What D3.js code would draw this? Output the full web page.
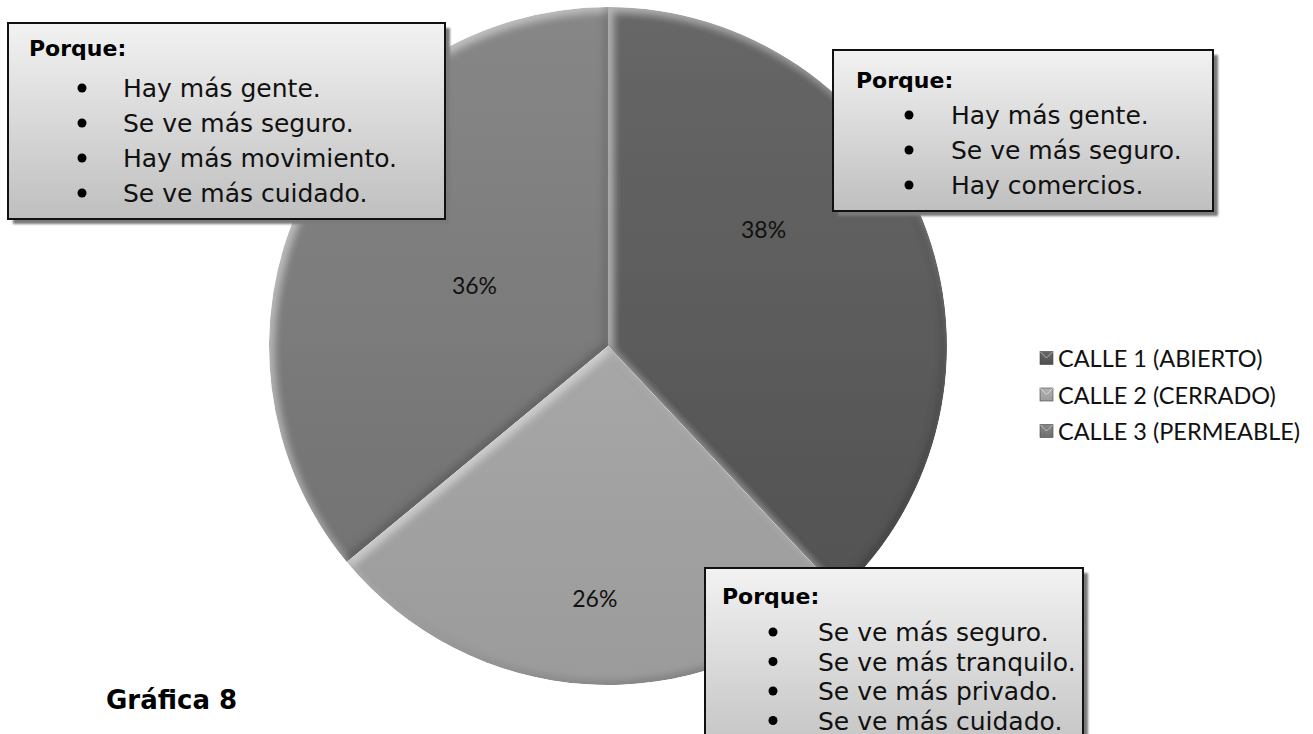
<!DOCTYPE html>
<html><head><meta charset="utf-8">
<script src="https://cdn.jsdelivr.net/npm/d3@7"></script>
<style>body{margin:0;background:#fff}svg{display:block}</style>
</head><body>
<svg id="chart" width="1313" height="734"></svg>
<script>
// ---- data ----
const categories = ["CALLE 1 (ABIERTO)", "CALLE 2 (CERRADO)", "CALLE 3 (PERMEABLE)"];
const values = [38, 26, 36];
const percentLabels = ["38%", "26%", "36%"];
const boxHeader = "Porque:";
const reasonsCalle1 = ["Hay más gente.", "Se ve más seguro.", "Hay comercios."];
const reasonsCalle2 = ["Se ve más seguro.", "Se ve más tranquilo.", "Se ve más privado.", "Se ve más cuidado."];
const reasonsCalle3 = ["Hay más gente.", "Se ve más seguro.", "Hay más movimiento.", "Se ve más cuidado."];
const chartTitle = "Gráfica 8";

// ---- styles / layout ----
const sliceTop = ["#676767", "#b3b3b3", "#878787"];
const sliceBottom = ["#4f4f4f", "#9b9b9b", "#6e6e6e"];
const cx = 608, cy = 346, R = 339;
const labelRadiusFrac = [0.574, 0.745, 0.433];
const labelAngleShift = [-15.3, -0.6, -0.7];

const svg = d3.select("#chart");
const defs = svg.append("defs");

// slice gradients (pie-group coordinates)
categories.forEach((c, i) => {
  const g = defs.append("linearGradient").attr("id", "sgp" + i)
    .attr("gradientUnits", "userSpaceOnUse")
    .attr("x1", 0).attr("y1", -R).attr("x2", 0).attr("y2", R);
  g.append("stop").attr("offset", 0).attr("stop-color", sliceTop[i]);
  g.append("stop").attr("offset", 1).attr("stop-color", sliceBottom[i]);
  const m = defs.append("linearGradient").attr("id", "mg" + i)
    .attr("x1", 0).attr("y1", 0).attr("x2", 0).attr("y2", 1);
  m.append("stop").attr("offset", 0).attr("stop-color", sliceTop[i]);
  m.append("stop").attr("offset", 1).attr("stop-color", sliceBottom[i]);
});

// bevel filter
const bev = defs.append("filter").attr("id", "bevel")
  .attr("x", "-5%").attr("y", "-5%").attr("width", "110%").attr("height", "110%");
bev.append("feGaussianBlur").attr("in", "SourceAlpha").attr("stdDeviation", 4).attr("result", "blur");
bev.append("feOffset").attr("in", "blur").attr("dx", 4).attr("dy", 4).attr("result", "offHi");
bev.append("feComposite").attr("in", "SourceAlpha").attr("in2", "offHi")
  .attr("operator", "arithmetic").attr("k2", 1).attr("k3", -1).attr("result", "hiMask");
bev.append("feFlood").attr("flood-color", "#ffffff").attr("flood-opacity", 0.45).attr("result", "white");
bev.append("feComposite").attr("in", "white").attr("in2", "hiMask").attr("operator", "in").attr("result", "hi");
bev.append("feOffset").attr("in", "blur").attr("dx", -3).attr("dy", -3).attr("result", "offSh");
bev.append("feComposite").attr("in", "SourceAlpha").attr("in2", "offSh")
  .attr("operator", "arithmetic").attr("k2", 1).attr("k3", -1).attr("result", "shMask");
bev.append("feFlood").attr("flood-color", "#000000").attr("flood-opacity", 0.45).attr("result", "black");
bev.append("feComposite").attr("in", "black").attr("in2", "shMask").attr("operator", "in").attr("result", "sh");
const mg = bev.append("feMerge").attr("result", "merged");
mg.append("feMergeNode").attr("in", "SourceGraphic");
mg.append("feMergeNode").attr("in", "hi");
mg.append("feMergeNode").attr("in", "sh");
bev.append("feComposite").attr("in", "merged").attr("in2", "SourceAlpha").attr("operator", "in");

// box shadow filter
const bs = defs.append("filter").attr("id", "bshadow");
bs.append("feGaussianBlur").attr("stdDeviation", 1.2);

// box gradient
const bg = defs.append("linearGradient").attr("id", "boxg")
  .attr("x1", 0).attr("y1", 0).attr("x2", 0).attr("y2", 1);
bg.append("stop").attr("offset", 0).attr("stop-color", "#f2f2f2");
bg.append("stop").attr("offset", 1).attr("stop-color", "#bfbfbf");

// ---- pie ----
const pie = d3.pie().sort(null).value(d => d)(values);
const arc = d3.arc().innerRadius(0).outerRadius(R);
const gPie = svg.append("g").attr("transform", `translate(${cx},${cy})`);
gPie.selectAll("path.slice").data(pie).join("path")
  .attr("class", "slice")
  .attr("d", arc)
  .attr("fill", (d, i) => `url(#sgp${i})`)
  .attr("filter", "url(#bevel)");

// percent labels
const labelPos = (d, i) => {
  const a = (d.startAngle + d.endAngle) / 2 + labelAngleShift[i] * Math.PI / 180;
  return [Math.sin(a) * R * labelRadiusFrac[i], -Math.cos(a) * R * labelRadiusFrac[i]];
};
gPie.selectAll("text.pct").data(pie).join("text")
  .attr("class", "pct")
  .attr("x", (d, i) => labelPos(d, i)[0])
  .attr("y", (d, i) => labelPos(d, i)[1])
  .attr("text-anchor", "middle")
  .attr("dominant-baseline", "central")
  .attr("font-family", "Lato, 'Open Sans', sans-serif")
  .attr("font-size", 23)
  .attr("fill", "#111")
  .text((d, i) => percentLabels[i]);

// ---- text boxes ----
const boxes = [
  {reasons: reasonsCalle3, x: 8, y: 23, w: 437, h: 196, px: 29, hy: 56, bx: 82, tx: 123, ly0: 97, step: 35},
  {reasons: reasonsCalle1, x: 833, y: 50, w: 380, h: 161, px: 856, hy: 88, bx: 909, tx: 951, ly0: 124, step: 35},
  {reasons: reasonsCalle2, x: 705, y: 568, w: 378, h: 200, px: 722, hy: 604, bx: 773, tx: 818, ly0: 641, step: 29.5}
];
boxes.forEach(b => {
  const g = svg.append("g");
  g.append("rect").attr("x", b.x + 5).attr("y", b.y + 5).attr("width", b.w).attr("height", b.h)
    .attr("fill", "#7a7a7a").attr("filter", "url(#bshadow)");
  g.append("rect").attr("x", b.x).attr("y", b.y).attr("width", b.w).attr("height", b.h)
    .attr("fill", "url(#boxg)").attr("stroke", "#111").attr("stroke-width", 2);
  g.append("text").attr("x", b.px).attr("y", b.hy)
    .attr("font-family", "'DejaVu Sans', sans-serif").attr("font-weight", "bold")
    .attr("font-size", 22).attr("fill", "#000").text(boxHeader);
  b.reasons.forEach((r, j) => {
    const by = b.ly0 + b.step * j;
    g.append("circle").attr("cx", b.bx).attr("cy", by - 9).attr("r", 4.5).attr("fill", "#000");
    g.append("text").attr("x", b.tx).attr("y", by)
      .attr("font-family", "'DejaVu Sans', sans-serif")
      .attr("font-size", 25).attr("fill", "#111").text(r);
  });
});

// ---- legend ----
const legendY = d3.scalePoint().domain(categories).range([358, 431]);
const legend = svg.append("g");
categories.forEach((c, i) => {
  const y = legendY(c);
  legend.append("rect").attr("x", 1040).attr("y", y - 6.5).attr("width", 13).attr("height", 13)
    .attr("fill", `url(#mg${i})`).attr("stroke", "#444").attr("stroke-width", 0.6);
  legend.append("path").attr("d", `M${1040},${y - 6.5} L${1046.5},${y} L${1053},${y - 6.5}`)
    .attr("fill", "none").attr("stroke", "rgba(255,255,255,0.5)").attr("stroke-width", 1);
  legend.append("text").attr("x", 1058).attr("y", y)
    .attr("dominant-baseline", "central")
    .attr("font-family", "Lato, 'Open Sans', sans-serif")
    .attr("font-size", 23.5).attr("fill", "#111").text(c);
});

// ---- title ----
svg.append("text").attr("x", 106).attr("y", 709)
  .attr("font-family", "'DejaVu Sans', sans-serif").attr("font-weight", "bold")
  .attr("font-size", 26).attr("fill", "#000").text(chartTitle);
</script>
</body></html>
